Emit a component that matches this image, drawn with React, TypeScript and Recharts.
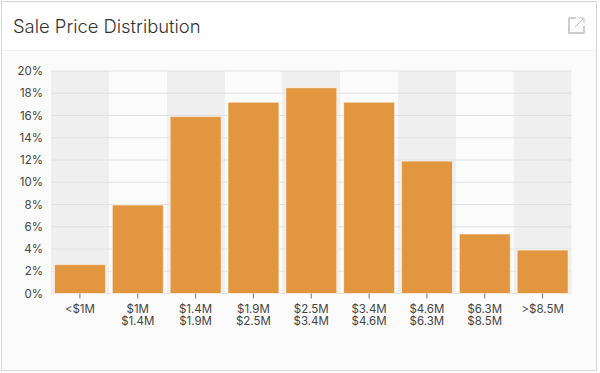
import { BarChart, Bar, XAxis, YAxis, CartesianGrid } from 'recharts';

const priceLow = ['<$1M', '$1M', '$1.4M', '$1.9M', '$2.5M', '$3.4M', '$4.6M', '$6.3M', '>$8.5M'];
const priceHigh = ['', '$1.4M', '$1.9M', '$2.5M', '$3.4M', '$4.6M', '$6.3M', '$8.5M', ''];
const shares = [2.6, 7.95, 15.9, 17.2, 18.5, 17.2, 11.9, 5.35, 3.9];
const percentTicks = [0, 2, 4, 6, 8, 10, 12, 14, 16, 18, 20];

const data = priceLow.map((low, i) => ({ low, high: priceHigh[i], share: shares[i] }));

const FONT = 'Inter, sans-serif';
const TEXT_COLOR = '#444';

const PriceTick = ({ x, y, payload, index }: any) => (
  <g>
    <line x1={x} x2={x} y1={y - 8} y2={y - 3} stroke="#777" strokeWidth={1} />
    <text x={x} y={y + 11} textAnchor="middle" fontSize={11.5} fontFamily={FONT} fill={TEXT_COLOR}>
      <tspan x={x}>{payload.value}</tspan>
      {priceHigh[index] ? <tspan x={x} dy={12}>{priceHigh[index]}</tspan> : null}
    </text>
  </g>
);

// band edges for the alternating background
const bandEdges = ({ offset }: any) =>
  priceLow.map((_, i) => offset.left + (i * offset.width) / priceLow.length);

const App = () => {
  return (
    <div style={{ position: 'absolute', left: 0, top: 0, width: 600, height: 373, background: '#fff', overflow: 'hidden' }}>
      <div style={{ position: 'absolute', left: 1, top: 1, width: 593.5, height: 368, border: '1.5px solid #d6d6d6', background: '#fbfbfb', boxSizing: 'content-box' }} />
      <div style={{ position: 'absolute', left: 2.5, top: 2.5, width: 593.5, height: 47.5, background: '#fff', borderBottom: '1px solid #efefef' }} />
      <div style={{ position: 'absolute', left: 13, top: 14, fontFamily: FONT, fontWeight: 300, fontSize: 18.4, lineHeight: '24px', color: '#333' }}>
        Sale Price Distribution
      </div>
      <svg style={{ position: 'absolute', left: 567, top: 16 }} width={18} height={18} viewBox="0 0 18 18" fill="none" stroke="#bdbdbd">
        <path d="M9 2H2V17H17V10" strokeWidth={1.5} />
        <path d="M8 11L16 3M12 2H17V7" strokeWidth={1} />
      </svg>
      <div style={{ position: 'absolute', left: 0, top: 0 }}>
        <BarChart
          width={600}
          height={373}
          data={data}
          margin={{ top: 71, right: 28.5, bottom: 49.5, left: 11 }}
          barCategoryGap="6%"
        >
          <CartesianGrid
            horizontal={false}
            stroke="none"
            verticalFill={['#efefef', '#fbfbfb']}
            fillOpacity={1}
            verticalCoordinatesGenerator={bandEdges}
          />
          <CartesianGrid vertical={false} stroke="#e2e2e2" strokeWidth={1} />
          <XAxis
            dataKey="low"
            height={30}
            interval={0}
            axisLine={false}
            tickLine={false}
            tick={<PriceTick />}
          />
          <YAxis
            width={40}
            domain={[0, 20]}
            ticks={percentTicks}
            interval={0}
            axisLine={false}
            tickLine={false}
            tickMargin={2}
            tickFormatter={(v: number) => `${v}%`}
            tick={{ fontSize: 11.5, fontFamily: FONT, fill: TEXT_COLOR }}
          />
          <Bar dataKey="share" fill="#e39640" stroke="#fff" strokeOpacity={0.6} strokeWidth={1} isAnimationActive={false} />
        </BarChart>
      </div>
    </div>
  );
};

export default App;
